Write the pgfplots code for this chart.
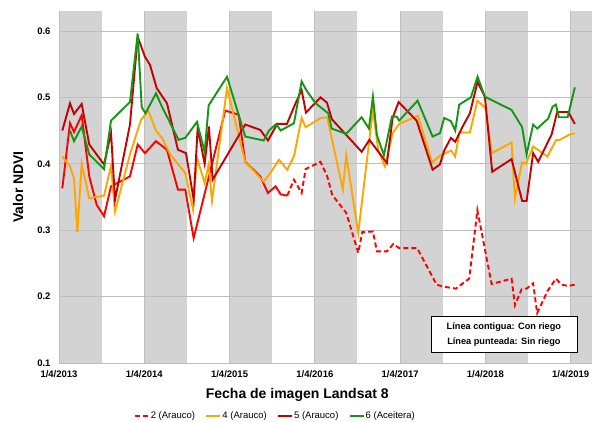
\documentclass[border=0pt]{standalone}
\usepackage{fontspec}
\setmainfont{Liberation Sans}
\usepackage{pgfplots}
\pgfplotsset{compat=1.18}
\definecolor{bandgray}{RGB}{211,211,211}
\definecolor{cBright}{RGB}{255,0,0}
\definecolor{cOrange}{RGB}{255,165,0}
\definecolor{cDark}{RGB}{196,0,0}
\definecolor{cGreen}{RGB}{20,150,20}
\definecolor{gridc}{RGB}{190,190,190}
\begin{document}
\begin{tikzpicture}
\begin{axis}[
  set layers,
  scale only axis,
  width=533pt, height=352pt,
  xmin=2013.25, xmax=2019.5,
  ymin=0.1, ymax=0.63,
  xtick={2013.25,2014.25,2015.25,2016.25,2017.25,2018.25,2019.25},
  xticklabels={1/4/2013,1/4/2014,1/4/2015,1/4/2016,1/4/2017,1/4/2018,1/4/2019},
  ytick={0.1,0.2,0.3,0.4,0.5,0.6},
  yticklabels={0.1,0.2,0.3,0.4,0.5,0.6},
  major tick length=0pt,
  axis x line*=bottom, axis y line*=left,
  axis line style={gridc, line width=0.8pt, -},
  grid=major,
  major grid style={gridc, line width=0.8pt},
  tick label style={font=\bfseries\fontsize{9.5}{11}\selectfont, text=black},
  xticklabel style={yshift=-4pt},
  yticklabel style={xshift=-5pt},
  xlabel={Fecha de imagen Landsat 8},
  ylabel={Valor NDVI},
  label style={font=\bfseries\fontsize{14}{16}\selectfont},
  xlabel style={at={(axis description cs:0.447,0)}, yshift=-32pt, anchor=center},
  ylabel style={at={(axis description cs:-0.0769,0.5)}, anchor=center},
  legend columns=4,
  legend style={draw=none, fill=none, at={(axis description cs:0.405,-0.1506)}, anchor=center,
    font=\fontsize{9.5}{11}\selectfont, nodes={inner sep=1.2pt},
    /tikz/every even column/.append style={column sep=9pt}},
  legend image code/.code={\draw[#1] (0pt,0pt) -- (14pt,0pt);},
  every axis plot/.append style={line width=1.9pt},
]
% seasonal bands
\addplot[forget plot, fill=bandgray, draw=none, line width=0pt, on layer=axis background] coordinates {(2013.25,0.1) (2013.75,0.1) (2013.75,0.63) (2013.25,0.63)};
\addplot[forget plot, fill=bandgray, draw=none, line width=0pt, on layer=axis background] coordinates {(2014.25,0.1) (2014.75,0.1) (2014.75,0.63) (2014.25,0.63)};
\addplot[forget plot, fill=bandgray, draw=none, line width=0pt, on layer=axis background] coordinates {(2015.25,0.1) (2015.75,0.1) (2015.75,0.63) (2015.25,0.63)};
\addplot[forget plot, fill=bandgray, draw=none, line width=0pt, on layer=axis background] coordinates {(2016.25,0.1) (2016.75,0.1) (2016.75,0.63) (2016.25,0.63)};
\addplot[forget plot, fill=bandgray, draw=none, line width=0pt, on layer=axis background] coordinates {(2017.25,0.1) (2017.75,0.1) (2017.75,0.63) (2017.25,0.63)};
\addplot[forget plot, fill=bandgray, draw=none, line width=0pt, on layer=axis background] coordinates {(2018.25,0.1) (2018.75,0.1) (2018.75,0.63) (2018.25,0.63)};
\addplot[forget plot, fill=bandgray, draw=none, line width=0pt, on layer=axis background] coordinates {(2019.25,0.1) (2019.75,0.1) (2019.75,0.63) (2019.25,0.63)};

% Series 2 (Arauco) - irrigated part (solid)
\addplot[forget plot, cBright] coordinates {
(2013.289,0.363) (2013.379,0.461) (2013.426,0.448) (2013.516,0.473) (2013.605,0.381)
(2013.692,0.338) (2013.778,0.321) (2013.860,0.366) (2014.082,0.381) (2014.173,0.429)
(2014.258,0.416) (2014.387,0.434) (2014.516,0.421) (2014.645,0.361) (2014.731,0.361)
(2014.829,0.288) (2015.199,0.480) (2015.357,0.474) (2015.434,0.403) (2015.610,0.381)
(2015.700,0.356) (2015.790,0.366) (2015.849,0.354) (2015.926,0.352)
};
% Series 2 (Arauco) - non irrigated part (dashed)
\addplot[cBright, dash pattern=on 5pt off 3pt] coordinates {
(2015.926,0.352) (2016.005,0.376) (2016.095,0.356) (2016.142,0.392) (2016.316,0.403)
(2016.395,0.381) (2016.454,0.353) (2016.618,0.326) (2016.759,0.266) (2016.806,0.297)
(2016.931,0.298) (2016.978,0.268) (2017.095,0.268) (2017.169,0.279) (2017.239,0.273)
(2017.450,0.273) (2017.678,0.218) (2017.755,0.215) (2017.904,0.212) (2018.060,0.227)
(2018.156,0.330) (2018.323,0.219) (2018.557,0.227) (2018.596,0.187) (2018.674,0.211)
(2018.733,0.212) (2018.810,0.220) (2018.857,0.175) (2018.977,0.208) (2019.077,0.227)
(2019.143,0.218) (2019.221,0.216) (2019.299,0.218)
};
\addlegendentry{2 (Arauco)}
% Series 4 (Arauco)
\addplot[cOrange] coordinates {
(2013.289,0.411) (2013.379,0.396) (2013.426,0.378) (2013.465,0.297) (2013.516,0.400)
(2013.605,0.348) (2013.778,0.352) (2013.860,0.397) (2013.907,0.328) (2014.082,0.414)
(2014.211,0.466) (2014.297,0.480) (2014.387,0.450) (2014.457,0.439) (2014.555,0.414)
(2014.731,0.386) (2014.821,0.331) (2014.868,0.409) (2014.958,0.371) (2015.005,0.399)
(2015.044,0.344) (2015.220,0.514) (2015.434,0.403) (2015.650,0.373) (2015.712,0.383)
(2015.829,0.406) (2015.926,0.391) (2016.005,0.411) (2016.095,0.469) (2016.142,0.455)
(2016.318,0.469) (2016.395,0.470) (2016.579,0.361) (2016.618,0.413) (2016.759,0.296)
(2016.931,0.481) (2016.993,0.421) (2017.072,0.396) (2017.162,0.446) (2017.239,0.460)
(2017.459,0.472) (2017.625,0.402) (2017.717,0.412) (2017.849,0.420) (2017.895,0.411)
(2017.946,0.447) (2018.068,0.447) (2018.156,0.495) (2018.250,0.484) (2018.326,0.416)
(2018.557,0.432) (2018.596,0.348) (2018.680,0.402) (2018.725,0.400) (2018.810,0.426)
(2018.977,0.411) (2019.080,0.436) (2019.123,0.436) (2019.235,0.444) (2019.299,0.446)
};
\addlegendentry{4 (Arauco)}
% Series 5 (Arauco)
\addplot[cDark] coordinates {
(2013.289,0.450) (2013.379,0.491) (2013.426,0.475) (2013.516,0.490) (2013.605,0.429)
(2013.778,0.399) (2013.860,0.446) (2013.907,0.346) (2014.082,0.459) (2014.173,0.591)
(2014.258,0.561) (2014.317,0.549) (2014.395,0.514) (2014.516,0.491) (2014.645,0.421)
(2014.739,0.416) (2014.829,0.346) (2014.876,0.454) (2014.958,0.400) (2015.008,0.456)
(2015.052,0.376) (2015.434,0.459) (2015.610,0.451) (2015.700,0.435) (2015.809,0.460)
(2015.923,0.460) (2016.017,0.489) (2016.095,0.511) (2016.146,0.477) (2016.316,0.500)
(2016.392,0.492) (2016.450,0.467) (2016.799,0.418) (2016.890,0.436) (2017.095,0.401)
(2017.162,0.469) (2017.232,0.493) (2017.443,0.465) (2017.631,0.391) (2017.717,0.399)
(2017.767,0.420) (2017.846,0.439) (2017.896,0.433) (2017.983,0.456) (2018.068,0.476)
(2018.158,0.523) (2018.244,0.501) (2018.330,0.388) (2018.557,0.407) (2018.681,0.344)
(2018.733,0.344) (2018.810,0.416) (2018.869,0.403) (2019.026,0.444) (2019.092,0.478)
(2019.221,0.478) (2019.299,0.460)
};
\addlegendentry{5 (Arauco)}
% Series 6 (Aceitera)
\addplot[cGreen] coordinates {
(2013.379,0.450) (2013.426,0.434) (2013.516,0.456) (2013.605,0.414) (2013.778,0.392)
(2013.860,0.465) (2014.082,0.493) (2014.173,0.596) (2014.220,0.485) (2014.264,0.476)
(2014.387,0.506) (2014.457,0.486) (2014.536,0.466) (2014.651,0.436) (2014.731,0.439)
(2014.868,0.463) (2014.958,0.418) (2015.005,0.488) (2015.220,0.531) (2015.434,0.441)
(2015.650,0.435) (2015.712,0.450) (2015.797,0.460) (2015.849,0.450) (2016.005,0.461)
(2016.095,0.524) (2016.149,0.511) (2016.259,0.491) (2016.407,0.476) (2016.447,0.453)
(2016.618,0.445) (2016.799,0.470) (2016.884,0.453) (2016.931,0.501) (2016.978,0.443)
(2017.060,0.413) (2017.154,0.471) (2017.209,0.471) (2017.239,0.465) (2017.455,0.495)
(2017.631,0.441) (2017.717,0.446) (2017.767,0.469) (2017.846,0.464) (2017.896,0.450)
(2017.943,0.489) (2018.080,0.500) (2018.158,0.531) (2018.244,0.501) (2018.557,0.481)
(2018.681,0.455) (2018.733,0.414) (2018.810,0.459) (2018.857,0.453) (2018.986,0.468)
(2019.038,0.486) (2019.076,0.489) (2019.112,0.470) (2019.214,0.470) (2019.299,0.515)
};
\addlegendentry{6 (Aceitera)}
\node[draw=black, line width=0.8pt, fill=white, minimum width=146pt, minimum height=36pt,
  align=center, font=\bfseries\fontsize{9.2}{15}\selectfont]
  at (axis cs:2018.467,0.143) {Línea contigua: Con riego\\Línea punteada: Sin riego};
\end{axis}
\pgfresetboundingbox
\path[use as bounding box] (-59pt,-58pt) rectangle (533pt,363pt);
\end{tikzpicture}
\end{document}
